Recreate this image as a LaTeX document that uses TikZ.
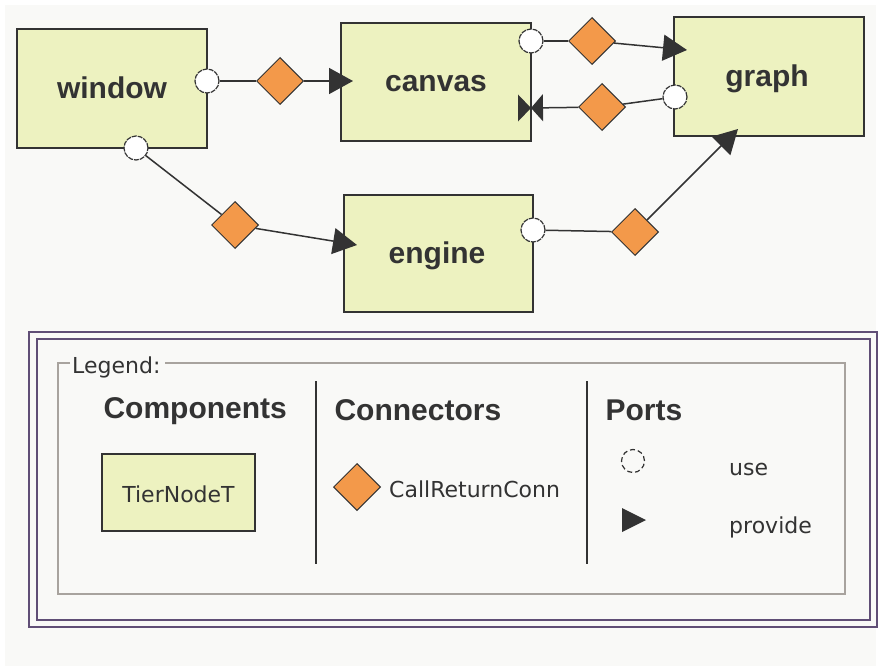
\documentclass[tikz,border=0pt]{standalone}
\usepackage{fontspec}
\setmainfont{DejaVu Sans}
\newfontfamily\headfont{Liberation Sans}
\usetikzlibrary{arrows.meta,shapes.geometric}

\definecolor{bgc}{RGB}{249,249,247}
\definecolor{compfill}{RGB}{237,242,192}
\definecolor{ink}{RGB}{51,51,51}
\definecolor{connfill}{RGB}{243,153,74}
\definecolor{framec}{RGB}{96,78,118}
\definecolor{etch}{RGB}{168,163,158}

\begin{document}
\begin{tikzpicture}[x=1pt,y=-1pt,
  comp/.style={draw=ink, line width=2pt, fill=compfill, rectangle, inner sep=0pt},
  conn/.style={draw=ink, line width=1pt, fill=connfill, diamond, minimum size=47pt, inner sep=0pt},
  useport/.style={draw=ink, line width=1.2pt, fill=white, circle, minimum size=24pt, inner sep=0pt, dash pattern=on 5pt off 1pt},
  wire/.style={draw=ink, line width=1.5pt},
  prov/.style={-{Triangle[length=24pt,width=26pt]}},
  complabel/.style={anchor=base, text=ink, font=\headfont\bfseries\fontsize{30}{36}\selectfont},
  head/.style={anchor=base west, text=ink, font=\headfont\bfseries\fontsize{30}{36}\selectfont},
  small/.style={anchor=base west, text=ink, inner sep=0pt, font=\fontsize{22}{26}\selectfont}
]
\useasboundingbox (0,0) rectangle (882,666);
\fill[white] (0,0) rectangle (882,666);
\fill[bgc] (5,5) rectangle (876,666);

% components
\node[comp, minimum width=190pt, minimum height=119pt] (window) at (112,88.5) {};
\node[comp, minimum width=190pt, minimum height=118pt] (canvas) at (436,82) {};
\node[comp, minimum width=189pt, minimum height=117pt] (engine) at (438.5,253.5) {};
\node[comp, minimum width=190pt, minimum height=119pt] (graph) at (769,76.5) {};

\node[complabel] (windowlbl) at (112,99) {window};
\node[complabel] (canvaslbl) at (436,92) {canvas};
\node[complabel] (enginelbl) at (437,263) {engine};
\node[complabel] (graphlbl) at (767,87) {graph};

% connectors
\node[conn] (d1) at (280,81) {};
\node[conn] (d2) at (235,225) {};
\node[conn] (d3) at (592,41) {};
\node[conn] (d4) at (602,107) {};
\node[conn] (d5) at (635,232) {};

% use ports
\node[useport] (wR) at (207,81) {};
\node[useport] (wB) at (136,148) {};
\node[useport] (cR) at (531,41) {};
\node[useport] (gL) at (675,97) {};
\node[useport] (eR) at (533,230) {};

% provide ends
\coordinate (cIn) at (353,81);
\coordinate (eIn) at (357,245);
\coordinate (gTop) at (687,50);
\coordinate (gBot) at (738,129);
\coordinate (cBow) at (531,108);

\draw[wire] (wR) -- (d1);
\draw[wire, prov] (d1) -- (cIn);
\draw[wire] (wB) -- (d2);
\draw[wire, prov] (d2) -- (eIn);
\draw[wire] (cR) -- (d3);
\draw[wire, prov] (d3) -- (gTop);
\draw[wire] (gL) -- (d4);
\draw[wire, -{Triangle[length=12pt,width=27pt]}] (d4) -- (cBow);
\fill[ink] ([shift={(-13,-13.5)}]cBow) -- (cBow) -- ([shift={(-13,13.5)}]cBow) -- cycle;
\draw[wire] (eR) -- (d5);
\draw[wire, prov] (d5) -- (gBot);

% legend frame
\draw[framec, line width=2.2pt] (29,332) rectangle (877,627);
\draw[framec, line width=2.2pt] (37,339) rectangle (870,620);
\draw[etch, line width=1.8pt] (70,363) -- (58,363) -- (58,594) -- (845,594) -- (845,363) -- (165,363);
\node[small] (legendlbl) at (72,373) {Legend:};

\node[head] (hcomp) at (100,418) {Components};
\node[head] (hconn) at (331,420) {Connectors};
\node[head] (hports) at (602,420) {Ports};

\draw[ink, line width=2pt] (316,381) -- (316,564);
\draw[ink, line width=2pt] (587,381) -- (587,564);

\node[comp, minimum width=153pt, minimum height=77pt] (tier) at (178.5,492.5) {};
\node[small, anchor=base] (tierlbl) at (178.5,502) {TierNodeT};

\node[conn] (dleg) at (357,487) {};
\node[small] (connlbl) at (389,497) {CallReturnConn};

\draw[ink, line width=1.2pt, dash pattern=on 5pt off 3pt] (633,461) circle (11.5pt);
\node[small] (uselbl) at (729,475) {use};
\fill[ink] (622,508) -- (646,520) -- (622,532) -- cycle;
\node[small] (provlbl) at (729,533) {provide};
\end{tikzpicture}
\end{document}
